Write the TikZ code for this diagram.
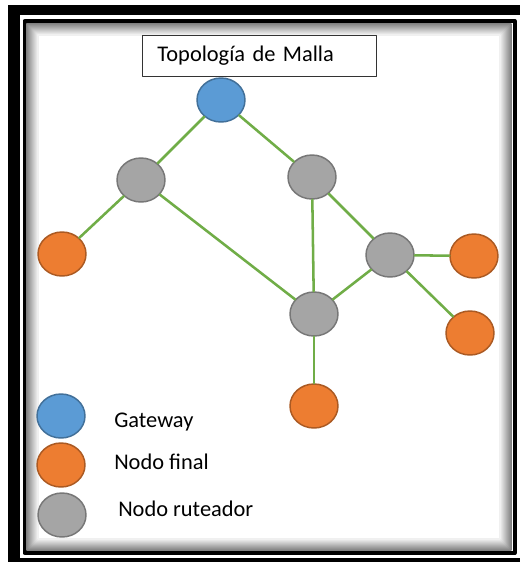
\documentclass[tikz,border=0pt]{standalone}
\usepackage{fontspec}
\setmainfont{Carlito}
\usetikzlibrary{shapes.geometric}
\definecolor{gwblue}{HTML}{5B9BD5}
\definecolor{finorange}{HTML}{ED7D31}
\definecolor{rutgray}{HTML}{A5A5A5}
\definecolor{linkgreen}{HTML}{70AD47}
\begin{document}
\begin{tikzpicture}[x=0.75pt, y=-0.75pt, line join=round, line cap=round,
	font=\fontsize{16.8}{20}\selectfont,
	nodo/.style={ellipse, draw=#1!72!black, fill=#1, line width=1.1pt, minimum width=36pt, minimum height=33pt, inner sep=0pt},
	enlace/.style={draw=linkgreen, line width=1.9pt},
	leyenda/.style={anchor=base west, inner sep=0pt}]
	\useasboundingbox (0,0) rectangle (520,562);
	% marco con sombra
	\fill (8,5) rectangle (520,562);
	\fill[white] (20,15) rectangle (520,558);
	\draw[line width=3pt] (24.5,21) rectangle (514.5,553);
	\foreach \i in {0,...,11}{\pgfmathsetmacro\g{int(50-4*\i)}
		\draw[black!\g, line width=0.8pt] (27+\i,24+\i) rectangle (511-\i,550-\i);}
	% titulo
	\node[draw=black!80, line width=0.75pt, anchor=west, text width=153pt, inner xsep=11.25pt, minimum height=30.75pt, align=left] (titulo) at (142,55.5) {Topología de Malla};
	% nodos
	\node[nodo=gwblue] (gw) at (221,100) {};
	\foreach \n/\x/\y in {r1/141/180, r2/312/177, r3/390/255, r4/314/314}{\node[nodo=rutgray] (\n) at (\x,\y) {};}
	\foreach \n/\x/\y in {f1/62/254, f2/474/256, f3/470/333, f4/314/406}{\node[nodo=finorange] (\n) at (\x,\y) {};}
	% enlaces
	\foreach \a/\b in {gw/r1, gw/r2, r1/f1, r1/r4, r2/r4, r2/r3, r3/r4, r3/f2, r3/f3, r4/f4}{\draw[enlace] (\a) -- (\b);}
	% leyenda
	\node[nodo=gwblue] (lgw) at (61,416) {};
	\node[nodo=finorange] (lfin) at (61,465) {};
	\node[nodo=rutgray] (lrut) at (62,515) {};
	\node[leyenda] (tgw) at (114,427) {Gateway};
	\node[leyenda] (tfin) at (114,469) {Nodo final};
	\node[leyenda] (trut) at (118,516) {Nodo ruteador};
\end{tikzpicture}
\end{document}
